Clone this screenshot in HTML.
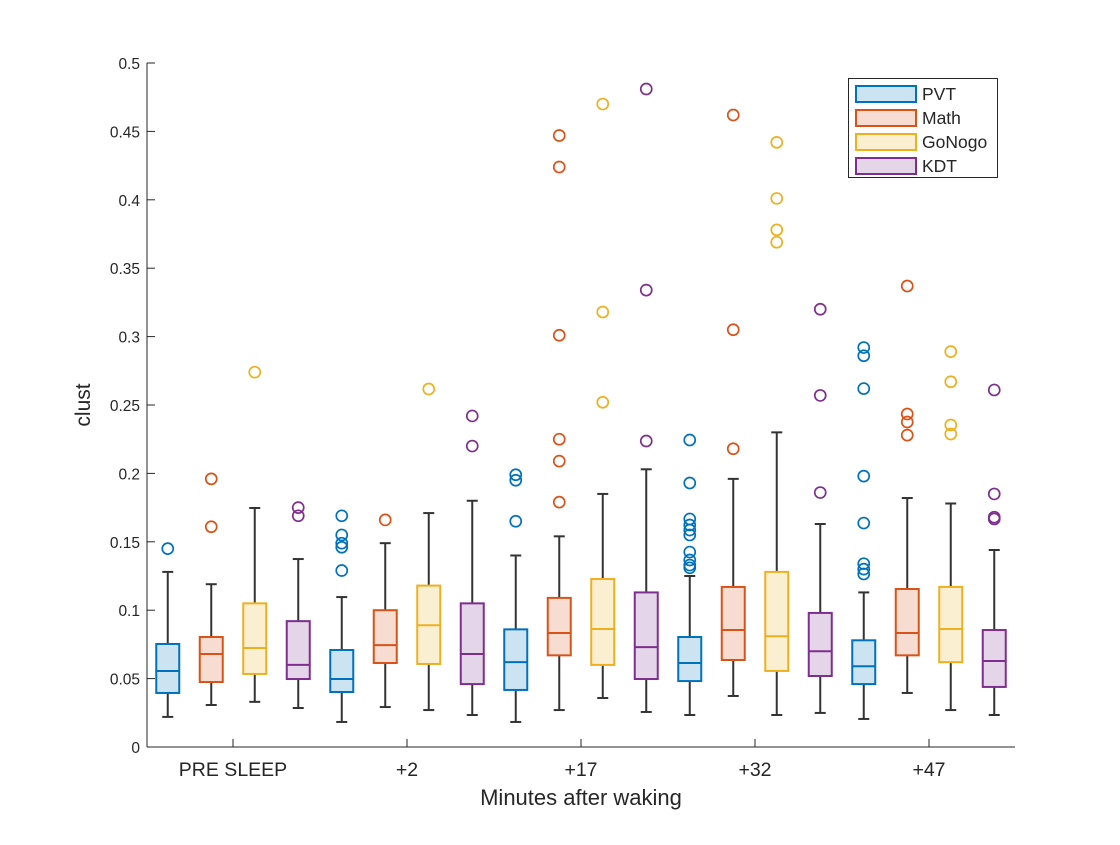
<!DOCTYPE html>
<html><head><meta charset="utf-8"><style>
html,body{margin:0;padding:0;background:#fff;}
svg text{font-family:"Liberation Sans",Arial,sans-serif;fill:#262626;}
</style></head><body>
<svg id="chart" width="1120" height="840" xmlns="http://www.w3.org/2000/svg">
<rect width="1120" height="840" fill="#fff"/>
<g id="plot"></g>
<g id="axes"></g>
<g id="legend"></g>
</svg>
<script>
const groupLabels = ["PRE SLEEP","+2","+17","+32","+47"];
const seriesNames = ["PVT","Math","GoNogo","KDT"];
const yTicks = [0,0.05,0.1,0.15,0.2,0.25,0.3,0.35,0.4,0.45,0.5];
const yTickLabels = ["0","0.05","0.1","0.15","0.2","0.25","0.3","0.35","0.4","0.45","0.5"];
const lows    = [0.022,0.0307,0.033,0.0285, 0.0183,0.0292,0.027,0.0234, 0.0183,0.027,0.0358,0.0256, 0.0234,0.0373,0.0234,0.0249, 0.0205,0.0395,0.027,0.0234];
const q1s     = [0.0395,0.0475,0.0534,0.0497, 0.0402,0.0614,0.0607,0.046, 0.0417,0.067,0.06,0.0497, 0.0482,0.0636,0.0556,0.0519, 0.046,0.067,0.062,0.0439];
const medians = [0.0556,0.068,0.0724,0.06, 0.0497,0.0745,0.089,0.068, 0.062,0.0833,0.0863,0.073, 0.0614,0.0855,0.081,0.070, 0.059,0.0833,0.0863,0.0629];
const q3s     = [0.0753,0.0804,0.105,0.092, 0.0709,0.1,0.118,0.105, 0.086,0.109,0.1228,0.113, 0.0804,0.117,0.128,0.098, 0.078,0.1155,0.117,0.0855];
const highs   = [0.128,0.119,0.1747,0.1374, 0.1096,0.149,0.171,0.18, 0.14,0.154,0.185,0.203, 0.125,0.196,0.230,0.163, 0.113,0.182,0.178,0.144];
const outliers = [
 [0.145],[0.161,0.196],[0.274],[0.169,0.175],
 [0.129,0.146,0.149,0.155,0.169],[0.166],[0.2617],[0.22,0.242],
 [0.165,0.195,0.199],[0.179,0.209,0.225,0.301,0.424,0.447],[0.252,0.318,0.470],[0.2237,0.334,0.481],
 [0.131,0.133,0.1367,0.1425,0.155,0.1586,0.1623,0.1667,0.193,0.2244],[0.218,0.305,0.462],[0.369,0.378,0.401,0.442],[0.186,0.257,0.320],
 [0.1265,0.130,0.134,0.1637,0.198,0.262,0.286,0.292],[0.228,0.2376,0.2434,0.337],[0.2288,0.2354,0.267,0.289],[0.1667,0.168,0.185,0.261]
];
const strokes = ["#0072BD","#D95319","#EDB120","#7E2F8E"];
const fills = ["#cce3f2","#f7dcd1","#fbefd2","#e5d5e8"];

const NS="http://www.w3.org/2000/svg";
const X0=147, X1=1015, Y0=747, Y1=63;
function yScale(v){return Y0-(v-0)/(0.5-0)*(Y0-Y1);}
function xScale(i){return 167.75+43.5*i;}
function groupX(g){return xScale(g*4+1.5);}
function mk(tag,attrs,parent){const e=document.createElementNS(NS,tag);for(const k in attrs)e.setAttribute(k,attrs[k]);parent.appendChild(e);return e;}

const plot=document.getElementById('plot');
for(let i=0;i<lows.length;i++){
  const s=i%4, cx=xScale(i), hw=11.5, cap=5.5;
  const g=mk('g',{},plot);
  
  
  mk('line',{x1:cx,x2:cx,y1:yScale(lows[i]),y2:yScale(q1s[i]),stroke:'#333',"stroke-width":2},g);
  mk('line',{x1:cx,x2:cx,y1:yScale(q3s[i]),y2:yScale(highs[i]),stroke:'#333',"stroke-width":2},g);
  mk('line',{x1:cx-cap,x2:cx+cap,y1:yScale(lows[i]),y2:yScale(lows[i]),stroke:'#333',"stroke-width":2},g);
  mk('line',{x1:cx-cap,x2:cx+cap,y1:yScale(highs[i]),y2:yScale(highs[i]),stroke:'#333',"stroke-width":2},g);
  mk('rect',{x:cx-hw,y:yScale(q3s[i]),width:2*hw,height:yScale(q1s[i])-yScale(q3s[i]),fill:fills[s],stroke:strokes[s],"stroke-width":2},g);
  mk('line',{x1:cx-hw,x2:cx+hw,y1:yScale(medians[i]),y2:yScale(medians[i]),stroke:strokes[s],"stroke-width":2},g);
  outliers[i].forEach(v=>{
    const c=mk('circle',{cx:cx,cy:yScale(v),r:5.5,fill:'none',stroke:strokes[s],"stroke-width":1.7},g);
    
    
  });
}

const axes=document.getElementById('axes');
const yl=mk('line',{x1:X0,x2:X0,y1:Y1,y2:Y0,stroke:'#262626',"stroke-width":1},axes);


const xl=mk('line',{x1:X0,x2:X1,y1:Y0,y2:Y0,stroke:'#262626',"stroke-width":1},axes);


yTicks.forEach((v,k)=>{
  const y=yScale(v);
  mk('line',{x1:X0,x2:X0+8,y1:y,y2:y,stroke:'#262626',"stroke-width":1},axes);
  const t=mk('text',{x:X0-7,y:y+6,"text-anchor":"end","font-size":15.5},axes);
  t.textContent=yTickLabels[k];
  
  
});
groupLabels.forEach((lab,g)=>{
  const x=groupX(g);
  mk('line',{x1:x,x2:x,y1:Y0,y2:Y0-8,stroke:'#262626',"stroke-width":1},axes);
  const t=mk('text',{x:x,y:776,"text-anchor":"middle","font-size":19.5},axes);
  t.textContent=lab;
  
  
});
const xt=mk('text',{x:581,y:805,"text-anchor":"middle","font-size":22},axes);
xt.textContent="Minutes after waking";


const yt=mk('text',{x:0,y:0,"text-anchor":"middle","font-size":21,transform:"translate(90,405) rotate(-90)"},axes);
yt.textContent="clust";



const leg=document.getElementById('legend');


mk('rect',{x:848.5,y:78.5,width:149,height:99,fill:'#fff',stroke:'#262626',"stroke-width":1},leg);
seriesNames.forEach((n,s)=>{
  const y=86+24*s;
  const g=mk('g',{},leg);
  
  
  mk('rect',{x:856,y:y,width:60,height:16,fill:fills[s],stroke:strokes[s],"stroke-width":2},g);
  const t=mk('text',{x:922,y:y+14,"font-size":17.5},g);
  t.textContent=n;
});
</script>
</body></html>
